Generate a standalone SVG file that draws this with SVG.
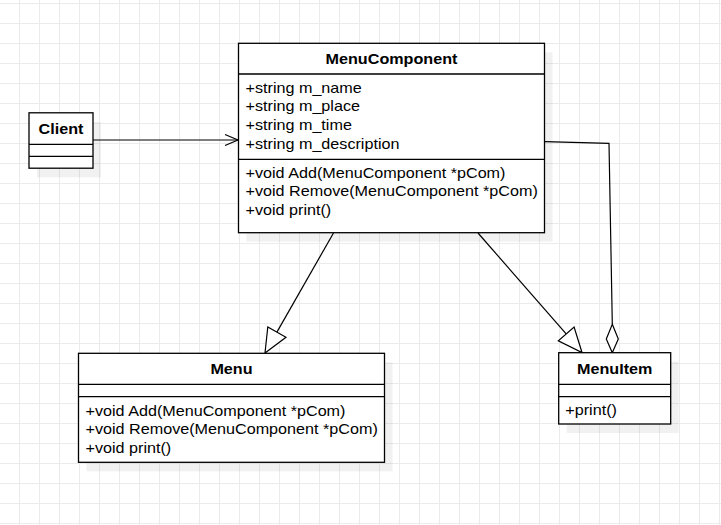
<svg xmlns="http://www.w3.org/2000/svg" width="721" height="525" viewBox="0 0 721 525">
  <style>
    .box { fill: #ffffff; stroke: #000000; stroke-width: 1.3; }
    .sh { fill: #000000; fill-opacity: 0.055; }
    .div { stroke: #000000; stroke-width: 1.3; fill: none; }
    .t { font-family: "Liberation Sans", Arial, Helvetica, sans-serif; font-size: 14px; fill: #000000; }
    .h { font-family: "Liberation Sans", Arial, Helvetica, sans-serif; font-size: 14px; font-weight: bold; fill: #000000; text-anchor: middle; }
    .ln { stroke: #000000; stroke-width: 1.2; fill: none; }
    .hd { stroke: #000000; stroke-width: 1.2; fill: #ffffff; stroke-linejoin: miter; }
  </style>
  <defs>
    <pattern id="grid" patternUnits="userSpaceOnUse" x="0" y="0" width="20" height="20">
      <path d="M19.5 0V20M0 3.5H20" stroke="#ebebeb" stroke-width="1" fill="none"/>
    </pattern>
  </defs>
  <rect x="0" y="0" width="721" height="525" fill="#ffffff"/>
  <rect x="0" y="0" width="721" height="525" fill="url(#grid)"/>

  <g id="connectors">
    <path class="ln" d="M93 140H238"/>
    <path class="ln" d="M225 134.5L238 140L225 145.5"/>
    <path class="ln" d="M333.5 233L276.9 332.1"/>
    <path class="hd" d="M265 353L286 337.3L267.8 326.9Z"/>
    <path class="ln" d="M478 233L566.2 333.9"/>
    <path class="hd" d="M582 352.5L574.1 327L558.3 340.8Z"/>
    <path class="ln" d="M545 141.7L609 143.3L612.3 324.3"/>
    <path class="hd" d="M612.3 324.3L618.3 339L612.3 352.7L606.3 339Z"/>
  </g>

  <g id="client">
    <rect class="sh" x="37" y="122" width="64" height="55.4"/>
    <rect class="box" x="29" y="112.8" width="64" height="55.4"/>
    <path class="div" d="M29 144.3H93M29 156.4H93"/>
    <text class="h" transform="matrix(1.155 0 0 1 61 133.5)">Client</text>
  </g>

  <g id="menucomponent">
    <rect class="sh" x="246.5" y="52.3" width="306" height="189.4"/>
    <rect class="box" x="238.5" y="43.3" width="306" height="189.4"/>
    <path class="div" d="M238.5 74H544.5M238.5 159.3H544.5"/>
    <text class="h" transform="matrix(1.155 0 0 1 391.5 64.2)">MenuComponent</text>
    <text class="t" transform="matrix(1.155 0 0 1 245.5 92.5)">+string m_name</text>
    <text class="t" transform="matrix(1.155 0 0 1 245.5 111.2)">+string m_place</text>
    <text class="t" transform="matrix(1.155 0 0 1 245.5 129.9)">+string m_time</text>
    <text class="t" transform="matrix(1.155 0 0 1 245.5 148.5)">+string m_description</text>
    <text class="t" transform="matrix(1.155 0 0 1 245.5 177.8)">+void Add(MenuComponent *pCom)</text>
    <text class="t" transform="matrix(1.155 0 0 1 245.5 196.2)">+void Remove(MenuComponent *pCom)</text>
    <text class="t" transform="matrix(1.155 0 0 1 245.5 214.6)">+void print()</text>
  </g>

  <g id="menu">
    <rect class="sh" x="86.5" y="362.3" width="306" height="109"/>
    <rect class="box" x="78.5" y="353.3" width="306" height="109"/>
    <path class="div" d="M78.5 384.3H384.5M78.5 396.7H384.5"/>
    <text class="h" transform="matrix(1.155 0 0 1 231.5 374.2)">Menu</text>
    <text class="t" transform="matrix(1.155 0 0 1 85.5 415.9)">+void Add(MenuComponent *pCom)</text>
    <text class="t" transform="matrix(1.155 0 0 1 85.5 434.2)">+void Remove(MenuComponent *pCom)</text>
    <text class="t" transform="matrix(1.155 0 0 1 85.5 452.5)">+void print()</text>
  </g>

  <g id="menuitem">
    <rect class="sh" x="566.7" y="361.7" width="112" height="71.3"/>
    <rect class="box" x="558.7" y="352.7" width="112" height="71.3"/>
    <path class="div" d="M558.7 384.3H670.7M558.7 396.7H670.7"/>
    <text class="h" transform="matrix(1.155 0 0 1 614.7 374.2)">MenuItem</text>
    <text class="t" transform="matrix(1.155 0 0 1 565.3 415.2)">+print()</text>
  </g>
</svg>
